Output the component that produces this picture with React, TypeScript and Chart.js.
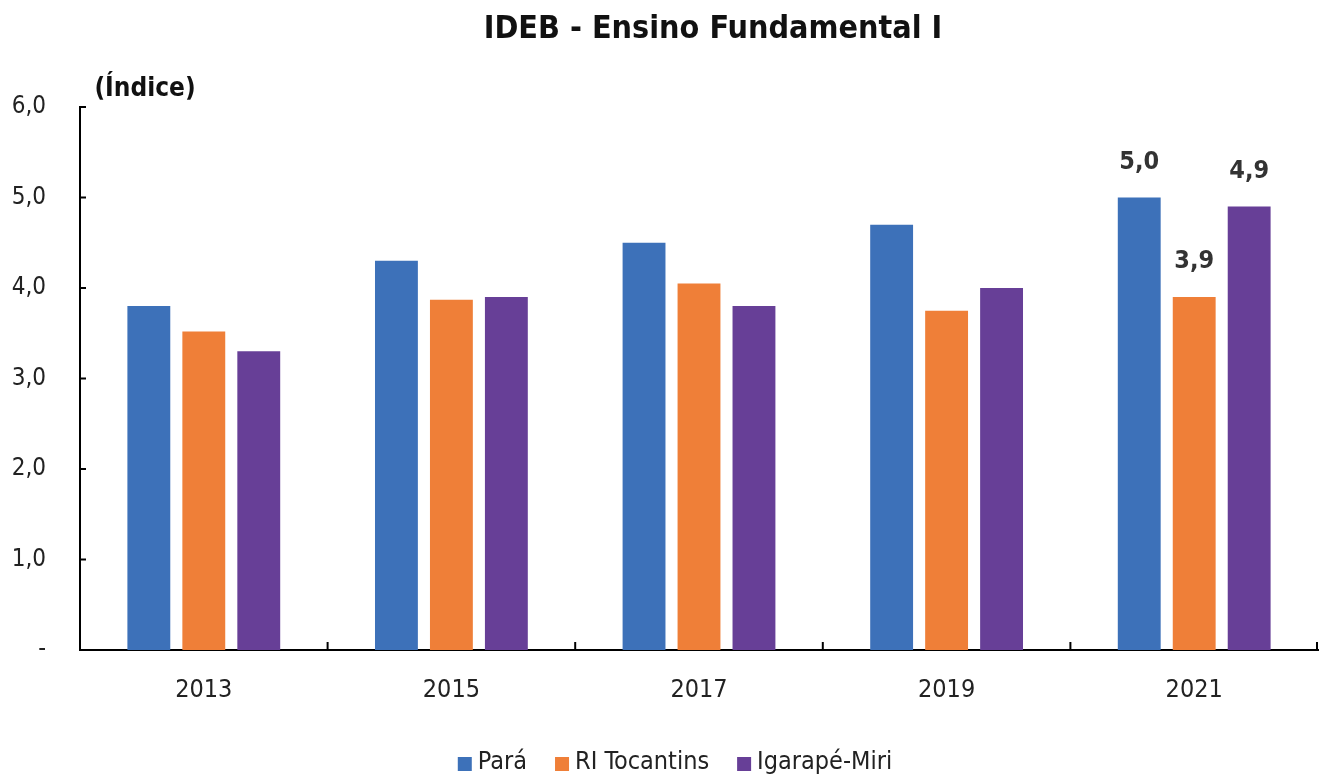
import React, { useEffect, useRef } from "react";
import { Chart, registerables } from "chart.js";

Chart.register(...registerables);

const categories = ["2013", "2015", "2017", "2019", "2021"];
const seriesNames = ["Pará", "RI Tocantins", "Igarapé-Miri"];
const para = [3.8, 4.3, 4.5, 4.7, 5.0];
const riTocantins = [3.52, 3.87, 4.05, 3.75, 3.9];
const igarapeMiri = [3.3, 3.9, 3.8, 4.0, 4.9];
const seriesColors = ["#3d71b9", "#ef7f38", "#673f97"];
const labeledIndex = 4;
const titleText = "IDEB - Ensino Fundamental I";
const yTitleText = "(Índice)";

const FONT = "'DejaVu Sans Condensed', 'Liberation Sans Narrow', 'Arial Narrow', sans-serif";

const fmt = (v: number) => (v === 0 ? "-" : v.toFixed(1).replace(".", ","));

const extrasPlugin = {
  id: "extras",
  afterDatasetsDraw(chart: any) {
    const ctx = chart.ctx;
    const x = chart.scales.x;
    const y = chart.scales.y;
    ctx.save();
    ctx.strokeStyle = "#000";
    ctx.lineWidth = 2;
    y.ticks.forEach((_t: any, i: number) => {
      const py = y.getPixelForTick(i);
      ctx.beginPath();
      ctx.moveTo(x.left, py);
      ctx.lineTo(x.left + 6, py);
      ctx.stroke();
    });
    const boundaries: number[] = [];
    for (let i = 1; i < categories.length; i++) {
      boundaries.push((x.getPixelForValue(i - 1) + x.getPixelForValue(i)) / 2);
    }
    boundaries.push(x.right - 1);
    boundaries.forEach((px) => {
      ctx.beginPath();
      ctx.moveTo(px, y.bottom);
      ctx.lineTo(px, y.bottom - 8);
      ctx.stroke();
    });
    const midX = (x.left + x.right) / 2;
    // title
    ctx.fillStyle = "#111";
    ctx.textAlign = "center";
    ctx.textBaseline = "middle";
    ctx.font = `bold 32px ${FONT}`;
    ctx.fillText(titleText, midX + 14, 30);
    // y title
    ctx.font = `bold 26px ${FONT}`;
    ctx.textBaseline = "bottom";
    ctx.fillText(yTitleText, x.left + 65, y.top - 5);
    // data labels
    ctx.font = `bold 25px ${FONT}`;
    ctx.fillStyle = "#333";
    chart.data.datasets.forEach((ds: any, di: number) => {
      const meta = chart.getDatasetMeta(di);
      const el = meta.data[labeledIndex];
      if (!el) return;
      ctx.fillText(fmt(ds.data[labeledIndex]), el.x, el.y - 23);
    });
    // legend
    const box = 14;
    const boxGap = 6;
    const itemGap = 28;
    ctx.font = `25px ${FONT}`;
    const widths = chart.data.datasets.map((ds: any) => box + boxGap + ctx.measureText(ds.label).width);
    const total = widths.reduce((a: number, b: number) => a + b, 0) + itemGap * (widths.length - 1);
    let lx = midX - 24 - total / 2;
    const ly = chart.height - 16;
    ctx.textAlign = "left";
    ctx.textBaseline = "middle";
    chart.data.datasets.forEach((ds: any, di: number) => {
      ctx.fillStyle = ds.backgroundColor;
      ctx.fillRect(lx, ly - box / 2 + 2, box, box);
      ctx.fillStyle = "#222";
      ctx.fillText(ds.label, lx + box + boxGap, ly);
      lx += widths[di] + itemGap;
    });
    ctx.restore();
  },
};

export default function App() {
  const ref = useRef<HTMLCanvasElement | null>(null);
  useEffect(() => {
    document.body.style.margin = "0";
    const values = [para, riTocantins, igarapeMiri];
    const chart = new Chart(ref.current as HTMLCanvasElement, {
      type: "bar",
      data: {
        labels: categories,
        datasets: seriesNames.map((n, i) => ({
          label: n,
          data: values[i],
          backgroundColor: seriesColors[i],
          barPercentage: 0.78,
          categoryPercentage: 0.666,
        })),
      },
      options: {
        animation: false,
        responsive: false,
        maintainAspectRatio: false,
        layout: { padding: { left: 0, right: 7, top: 107, bottom: 43 } },
        plugins: {
          title: { display: false },
          legend: { display: false },
          tooltip: { enabled: false },
        },
        scales: {
          x: {
            grid: { display: false },
            border: { display: true, color: "#000", width: 2 },
            ticks: { color: "#222", font: { family: FONT, size: 25 }, padding: 17 },
            afterFit: (s: any) => {
              s.height = 85;
            },
          },
          y: {
            min: 0,
            max: 6,
            grid: { display: false },
            border: { display: true, color: "#000", width: 2 },
            ticks: {
              stepSize: 1,
              color: "#222",
              font: { family: FONT, size: 24 },
              padding: 26,
              callback: (v: any) => fmt(Number(v)),
            },
            afterFit: (s: any) => {
              s.width = 80;
            },
          },
        },
      },
      plugins: [extrasPlugin],
    });
    return () => chart.destroy();
  }, []);
  return (
    <div style={{ position: "fixed", left: 0, top: 0, width: 1325, height: 778, background: "#fff" }}>
      <canvas ref={ref} width={1325} height={778} style={{ width: 1325, height: 778 }} />
    </div>
  );
}
